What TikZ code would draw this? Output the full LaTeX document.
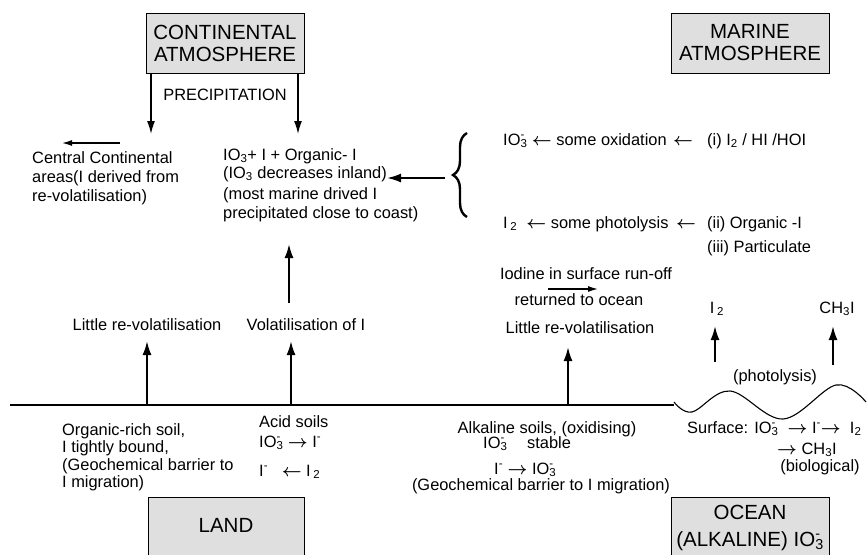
\documentclass[tikz,border=0pt]{standalone}
\usepackage{fontspec}
\setmainfont{Liberation Sans}
\usetikzlibrary{arrows.meta,decorations.pathreplacing}
\newcommand{\mysub}[1]{\textsubscript{#1}}
\newcommand{\mysup}[1]{\textsuperscript{#1}}
\newcommand{\mysupsub}[2]{\rlap{\textsuperscript{#1}}\textsubscript{#2}}
\newcommand{\myra}{{\boldmath$\rightarrow$}}
\newcommand{\myla}{{\boldmath$\leftarrow$}}
\tikzset{
  gbox/.style={draw, line width=0.9pt, fill=gray!25, minimum width=158pt, minimum height=60pt, align=center, inner sep=0pt, font=\fontsize{20.5}{22}\selectfont},
  txt/.style={inner sep=0pt, font=\fontsize{16.4}{19}\selectfont},
  bigtxt/.style={inner sep=0pt, font=\fontsize{20.5}{22}\selectfont},
  bigarr/.style={line width=2pt, -{Latex[length=14pt,width=9pt]}},
  medarr/.style={line width=1.5pt, -{Latex[length=13pt,width=8pt]}},
  smallarr/.style={line width=1.3pt, -{Latex[length=10pt,width=6pt]}},
  grayfill/.style={fill=gray!25},
}
\begin{document}
\begin{tikzpicture}[x=1pt,y=-1pt]
\useasboundingbox[fill=white] (0,0) rectangle (868,555);

% atmosphere boxes
\node[gbox] (cont) at (225,43.5) {CONTINENTAL\\ATMOSPHERE};
\node[gbox] (marine) at (750,43) {MARINE\\ATMOSPHERE};

% precipitation
\node[txt, anchor=base] (precip) at (225,100) {PRECIPITATION};
\coordinate (pL) at (151,134);
\coordinate (pR) at (298,134);
\draw[medarr] (cont.south -| pL) -- (pL);
\draw[medarr] (cont.south -| pR) -- (pR);

% central continental
\coordinate (cA) at (120,143);
\coordinate (cB) at (62,143);
\draw[smallarr] (cA) -- (cB);
\node[txt, anchor=north west, align=left, font=\fontsize{16.4}{19}\selectfont] (central) at (32,151) {Central Continental\\areas(I derived from\\re-volatilisation)};

% deposition text
\node[txt, anchor=north west, align=left, font=\fontsize{16.4}{18}\selectfont] (depa) at (223,148) {IO\mysub{3}+ I + Organic- I\\(IO\mysub{3} decreases inland)};
\node[txt, anchor=north west, align=left, font=\fontsize{16.4}{19}\selectfont] (depb) at (223,187) {(most marine drived I\\precipitated close to coast)};

% brace and arrow
\draw[decorate, decoration={brace, amplitude=14pt}, line width=2.4pt] (467,217) -- (467,133);
\coordinate (brA) at (445,178);
\coordinate (brB) at (387,178);
\draw[bigarr] (brA) -- (brB);

% marine reactions
\node[txt, anchor=base west] (ox) at (503,145) {IO\mysupsub{-}{3} \myla\ some oxidation};
\node[txt, anchor=base west] (oxa) at (673,145) {\myla};
\node[txt, anchor=base west] (src1) at (707,145) {(i) I\mysub{2} / HI /HOI};
\node[txt, anchor=base west] (ph) at (503,228) {I\,\mysub{2} \ \myla\ some photolysis};
\node[txt, anchor=base west] (pha) at (676,228) {\myla};
\node[txt, anchor=base west] (src2) at (707,228) {(ii) Organic -I};
\node[txt, anchor=base west] (src3) at (707,252) {(iii) Particulate};

% run-off
\node[txt, anchor=base] (runa) at (586,279) {Iodine in surface run-off};
\coordinate (rA) at (548,289);
\coordinate (rB) at (598,289);
\draw[smallarr] (rA) -- (rB);
\node[txt, anchor=base] (runb) at (579,305) {returned to ocean};
\node[txt, anchor=base] (lrvR) at (580,333) {Little re-volatilisation};

% ocean emissions
\node[txt, anchor=base] (ei2) at (717,313) {I\,\mysub{2}};
\node[txt, anchor=base] (ech) at (837,313) {CH\mysub{3}I};
\coordinate (e1a) at (715,362);
\coordinate (e1t) at (715,326);
\coordinate (e2a) at (833,365);
\coordinate (e2t) at (833,326);
\draw[bigarr] (e1a) -- (e1t);
\draw[bigarr] (e2a) -- (e2t);
\node[txt, anchor=base] (phot) at (775,381) {(photolysis)};

% left land emissions
\node[txt, anchor=base] (lrvL) at (147,330) {Little re-volatilisation};
\node[txt, anchor=base] (vol) at (306,330) {Volatilisation of I};
\coordinate (g1) at (147,405);
\coordinate (g1t) at (147,341);
\coordinate (g2) at (291,405);
\coordinate (g2t) at (291,341);
\coordinate (v1) at (289,303);
\coordinate (v1t) at (289,244);
\coordinate (g3) at (568,405);
\coordinate (g3t) at (568,347);
\draw[bigarr] (g1) -- (g1t);
\draw[bigarr] (g2) -- (g2t);
\draw[bigarr] (v1) -- (v1t);
\draw[bigarr] (g3) -- (g3t);

% ground and sea surface
\coordinate (gl) at (10,405);
\coordinate (gr) at (674,405);
\draw[line width=1.2pt] (gl) -- (gr);
\draw[line width=1.1pt] plot[smooth, tension=0.6] coordinates {(674,402) (692,412) (730,391) (783,419) (836,385) (866,402)};

% soils text
\node[txt, anchor=north west, align=left, font=\fontsize{16.4}{17.6}\selectfont] (orgsoil) at (62,423) {Organic-rich soil,\\I tightly bound,\\(Geochemical barrier to\\I migration)};
\node[txt, anchor=base west] (acid) at (259,427) {Acid soils};
\node[txt, anchor=base west] (acid1) at (259,447) {IO\mysupsub{-}{3} \myra\ I\mysup{-}};
\node[txt, anchor=base west] (acid2) at (259,476) {I\mysup{-} \ \ \myla\ I\,\mysub{2}};

\node[txt, anchor=base] (alk) at (547,433) {Alkaline soils, (oxidising)};
\node[txt, anchor=base west] (alk1) at (483,448) {IO\mysupsub{-}{3}};
\node[txt, anchor=base west] (alk1b) at (527,448) {stable};
\node[txt, anchor=base west] (alk2) at (494,474) {I\mysup{-} \myra\ IO\mysupsub{-}{3}};
\node[txt, anchor=base] (alk3) at (541,490) {(Geochemical barrier to I migration)};

\node[txt, anchor=base west] (surf) at (687,433) {Surface: IO\mysupsub{-}{3} \ \myra\ I\mysup{-}\myra\ \ I\mysub{2}};
\node[txt, anchor=base west] (surf2) at (777,454) {\myra\ CH\mysub{3}I};
\node[txt, anchor=base] (bio) at (820,471) {(biological)};

% land and ocean boxes (cut by lower edge)
\path[grayfill] (148,497) rectangle (304,555);
\draw[line width=0.9pt] (148,555) -- (148,497) -- (304,497) -- (304,555);
\node[bigtxt, anchor=base] (land) at (226,532) {LAND};
\path[grayfill] (671,497) rectangle (829,555);
\draw[line width=0.9pt] (671,555) -- (671,497) -- (829,497) -- (829,555);
\node[bigtxt, anchor=base] (ocean) at (750,519) {OCEAN};
\node[bigtxt, anchor=base] (alkio) at (750,546) {(ALKALINE) IO\mysupsub{-}{3}};
\end{tikzpicture}
\end{document}
